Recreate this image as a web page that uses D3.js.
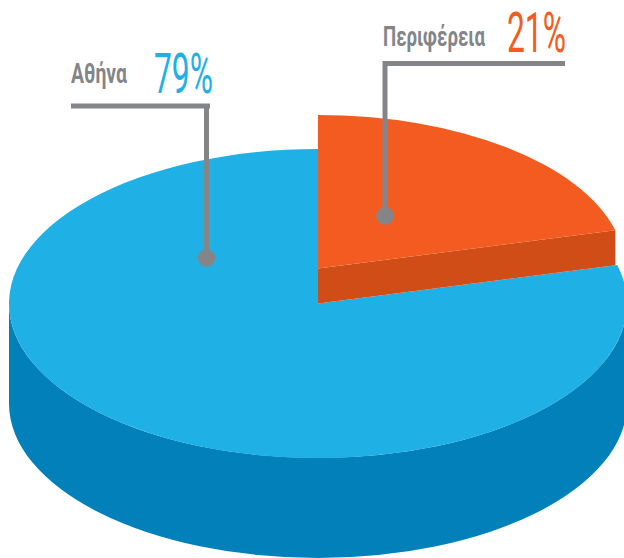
<!DOCTYPE html>
<html><head><meta charset="utf-8">
<script src="https://cdn.jsdelivr.net/npm/d3@7"></script>
<style>html,body{margin:0;padding:0;background:#fff;overflow:hidden}svg{display:block}</style>
</head><body><svg id="c" width="624" height="558"></svg>
<script>
const categories = ["Αθήνα", "Περιφέρεια"];
const values = [79, 21];
const valueLabels = ["79%", "21%"];
const topColors = ["#1fb0e6", "#f45b20"];
const sideColors = ["#0180b9", "#d04d18"];

const svg = d3.select("#c");
const cx = 318, cy = 303.5, rx = 309, rxWedge = 307, squash = 0.5, depth = 100, lift = 35;
const sy = v => v * squash;

// Orange first in pie order (clockwise from 12 o'clock), blue after it
const pie = d3.pie().sort(null).value(d => d.v);
const arcs = pie([{i:1, v:values[1]}, {i:0, v:values[0]}]);
const orange = arcs[0], blue = arcs[1];
const arc = d3.arc().innerRadius(0).outerRadius(rx);
const wedgeArc = d3.arc().innerRadius(0).outerRadius(rxWedge);

// Blue rim: lower half of the ellipse extruded
svg.append("path")
  .attr("d", `M${cx-rx},${cy}A${rx},${sy(rx)} 0 0 0 ${cx+rx},${cy}L${cx+rx},${cy+depth}A${rx},${sy(rx)} 0 0 1 ${cx-rx},${cy+depth}Z`)
  .attr("fill", sideColors[0]);

// Blue top
svg.append("path")
  .attr("transform", `translate(${cx},${cy}) scale(1,${squash})`)
  .attr("d", arc(blue))
  .attr("fill", topColors[0]);

// Orange wedge, lifted out of the disc: the visible side face along its lower edge
const a = orange.endAngle;
const ex = cx + rxWedge * Math.sin(a), ey = cy - lift - sy(rxWedge) * Math.cos(a);
svg.append("path")
  .attr("d", `M${cx},${cy-lift}L${ex},${ey}L${ex},${ey+lift}L${cx},${cy}Z`)
  .attr("fill", sideColors[1]);
svg.append("path")
  .attr("transform", `translate(${cx},${cy-lift}) scale(1,${squash})`)
  .attr("d", wedgeArc(orange))
  .attr("fill", topColors[1]);

// Callouts
const grey = "#848589";
function callout(x0, x1, yTop, xDrop, yDot) {
  svg.append("path")
    .attr("d", `M${x0},${yTop}H${x1}M${xDrop},${yTop-2.5}V${yDot}`)
    .attr("fill", "none").attr("stroke", grey).attr("stroke-width", 5);
  svg.append("circle").attr("cx", xDrop).attr("cy", yDot).attr("r", 8.8).attr("fill", grey);
}
callout(71, 210, 106, 206.5, 258);
callout(383, 565, 63.5, 385, 216);

// Condensed look: real text squeezed horizontally to the reference's width
function label(text, x, y, w, size, weight, fill) {
  const t = svg.append("text").text(text)
    .attr("font-family", "Roboto, 'Open Sans', sans-serif")
    .attr("font-size", size).attr("font-weight", weight).attr("fill", fill);
  const k = w / t.node().getComputedTextLength();
  t.attr("transform", `translate(${x},${y}) scale(${k},1)`);
}
label(categories[0], 71, 83, 56, 28, 700, grey);
label(valueLabels[0], 154, 93, 59, 55, 400, topColors[0]);
label(categories[1], 383, 45.5, 102, 28, 700, grey);
label(valueLabels[1], 507, 51.5, 59, 55, 400, topColors[1]);
</script></body></html>
